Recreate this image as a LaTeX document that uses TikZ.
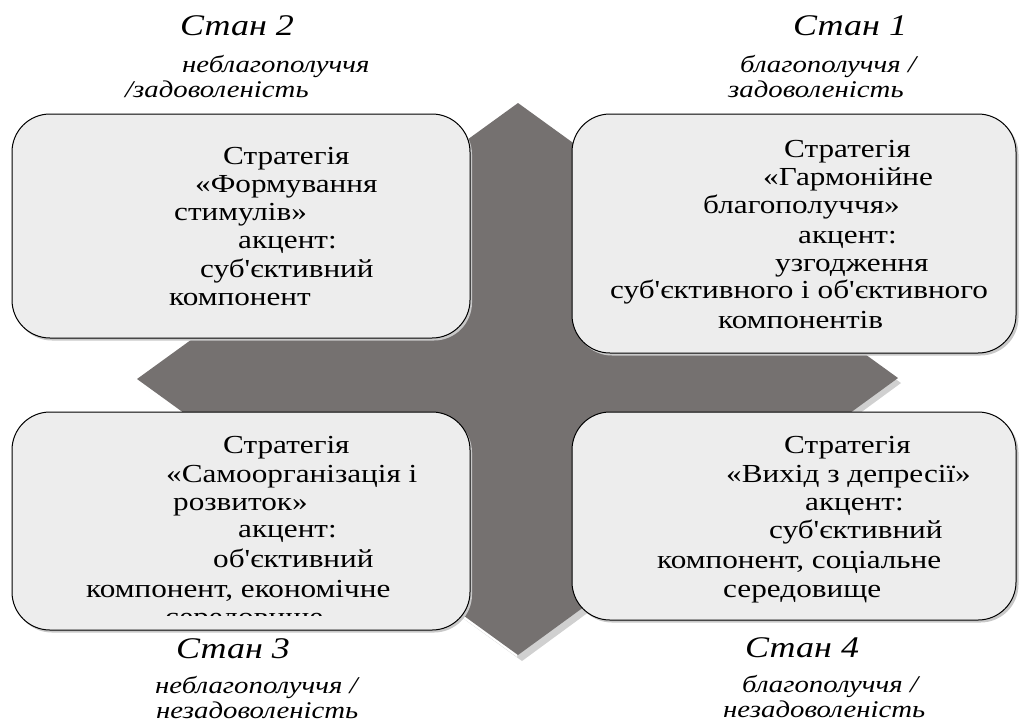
\documentclass[tikz,border=0pt]{standalone}
\usepackage{fontspec}
\setmainfont{Liberation Serif}[FakeStretch=1.2, Ligatures=TeXOff]
\definecolor{diam}{RGB}{117,113,112}
\definecolor{diamshadow}{RGB}{208,208,208}
\definecolor{boxfill}{RGB}{237,237,237}
\definecolor{boxshadow}{RGB}{200,200,200}
\tikzset{
  boxshape/.style={draw=black, line width=1pt, fill=boxfill, rounded corners=38pt},
  boxshade/.style={fill=boxshadow, rounded corners=38pt},
  txt/.style={anchor=base west, inner sep=0pt, font=\fontsize{26}{28}\selectfont},
  bigl/.style={anchor=base west, inner sep=0pt, font=\fontsize{30}{32}\selectfont\itshape},
  smalll/.style={anchor=base west, inner sep=0pt, font=\fontsize{24}{26}\selectfont\itshape}
}
\begin{document}
\begin{tikzpicture}[x=1pt,y=-1pt]
\useasboundingbox (0,0) rectangle (1019,724);
% diamond with shadow
\fill[diamshadow] (521,108) -- (901,383) -- (522,661) -- (140,384) -- cycle;
\fill[white] (516,106) -- (135,381) -- (517,657) -- cycle;
\fill[diam] (518,103) -- (898,378) -- (518,655) -- (137,379) -- cycle;
% boxes
\fill[boxshade] (14,116.5) rectangle (472,340.5);
\draw[boxshape] (12,114) rectangle (470,338);
\fill[boxshade] (574,116.5) rectangle (1018.5,355.5);
\draw[boxshape] (572,114) rectangle (1016,353);
\fill[boxshade] (14,414.5) rectangle (472,632.5);
\draw[boxshape] (12,412) rectangle (470,630);
\fill[boxshade] (574,414.5) rectangle (1018.5,622.5);
\draw[boxshape] (572,412) rectangle (1016,620);
% top-left box text
\node[txt] (tl1) at (223,164) {Стратегія};
\node[txt] (tl2) at (195,192) {«Формування};
\node[txt] (tl3) at (174,220) {стимулів»};
\node[txt] (tl4) at (238,248) {акцент:};
\node[txt] (tl5) at (200,277) {суб'єктивний};
\node[txt] (tl6) at (169,305) {компонент};
% top-right box text
\node[txt] (tr1) at (784,157) {Стратегія};
\node[txt] (tr2) at (763,185) {«Гармонійне};
\node[txt] (tr3) at (703,213) {благополуччя»};
\node[txt] (tr4) at (798,243) {акцент:};
\node[txt] (tr5) at (775,271) {узгодження};
\node[txt] (tr6) at (610,298) {суб'єктивного і об'єктивного};
\node[txt] (tr7) at (718,328) {компонентів};
% bottom-left box text
\node[txt] (bl1) at (223,453) {Стратегія};
\node[txt] (bl2) at (166,482) {«Самоорганізація і};
\node[txt] (bl3) at (173,510) {розвиток»};
\node[txt] (bl4) at (238,537) {акцент:};
\node[txt] (bl5) at (213,567) {об'єктивний};
\node[txt] (bl6) at (86,597) {компонент, економічне};
\begin{scope}
\clip (0,0) rectangle (1019,615.5);
\node[txt] (bl7) at (165,625) {середовище};
\end{scope}
% bottom-right box text
\node[txt] (br1) at (784,453) {Стратегія};
\node[txt] (br2) at (726,482) {«Вихід з депресії»};
\node[txt] (br3) at (805,510) {акцент:};
\node[txt] (br4) at (769,538) {суб'єктивний};
\node[txt] (br5) at (657,568) {компонент, соціальне};
\node[txt] (br6) at (723,597) {середовище};
% state labels
\node[bigl] (s2) at (180,35) {Стан 2};
\node[smalll] (s2a) at (182,72) {неблагополуччя};
\node[smalll] (s2b) at (125,97) {/задоволеність};
\node[bigl] (s1) at (793,35) {Стан 1};
\node[smalll] (s1a) at (740,72) {благополуччя /};
\node[smalll] (s1b) at (728,97) {задоволеність};
\node[bigl] (s3) at (176,658) {Стан 3};
\node[smalll] (s3a) at (155,693) {неблагополуччя /};
\node[smalll] (s3b) at (156,718) {незадоволеність};
\node[bigl] (s4) at (745,657) {Стан 4};
\node[smalll] (s4a) at (742,692) {благополуччя /};
\node[smalll] (s4b) at (723,717) {незадоволеність};
\end{tikzpicture}
\end{document}
